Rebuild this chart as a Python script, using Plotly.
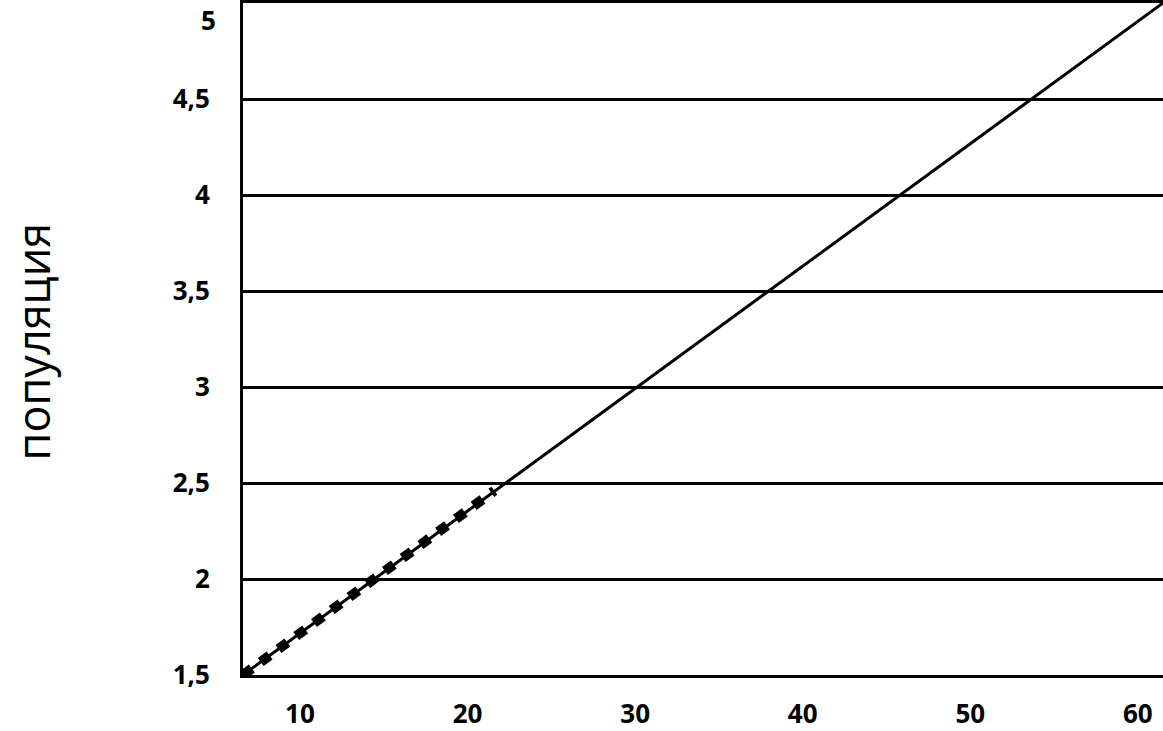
import plotly.graph_objects as go

# Data
line_x = [6.6, 61.5]
line_y = [1.5, 5.0]
obs_x = [6.6, 21.6]
obs_y = [1.5, 2.46]
y_ticks = [1.5, 2, 2.5, 3, 3.5, 4, 4.5]
y_top = 5
x_ticks = [10, 20, 30, 40, 50, 60]
y_title = "популяция"

fig = go.Figure()
fig.add_trace(go.Scatter(x=line_x, y=line_y, mode="lines",
                         line=dict(color="black", width=3), showlegend=False))
fig.add_trace(go.Scatter(x=obs_x, y=obs_y, mode="lines",
                         line=dict(color="black", width=10, dash="11px,11px"),
                         showlegend=False))

font_ticks = dict(family="Open Sans", size=26, color="black", weight="bold")

fig.update_layout(
    width=1163, height=731,
    margin=dict(l=243, r=0, t=3, b=56),
    plot_bgcolor="white", paper_bgcolor="white",
    separators=", ",
    xaxis=dict(range=[6.6, 61.5], tickvals=x_ticks, showgrid=False, automargin=False,
               showline=True, linecolor="black", linewidth=3, mirror=True,
               zeroline=False, ticks="", ticklabelstandoff=14, tickfont=font_ticks),
    yaxis=dict(range=[1.5, 5], tickvals=y_ticks, tickformat=".1~f", automargin=False,
               showgrid=True, gridcolor="black", gridwidth=2.5,
               showline=True, linecolor="black", linewidth=3, mirror=True,
               zeroline=False, ticks="", ticklabelstandoff=25, tickfont=font_ticks),
    annotations=[
        dict(text=y_title, textangle=-90, xref="paper", yref="paper",
             x=-243/920, y=0.4955, xanchor="left", yanchor="middle",
             showarrow=False, font=dict(family="Open Sans", size=45, color="black")),
        dict(text=str(y_top), xref="paper", yref="y", x=-25/920, y=y_top,
             xanchor="right", yanchor="top", yshift=3, showarrow=False, font=font_ticks),
    ],
)

fig.write_html("out.html", config={"displayModeBar": False},
               post_script="document.body.style.margin='0';")
